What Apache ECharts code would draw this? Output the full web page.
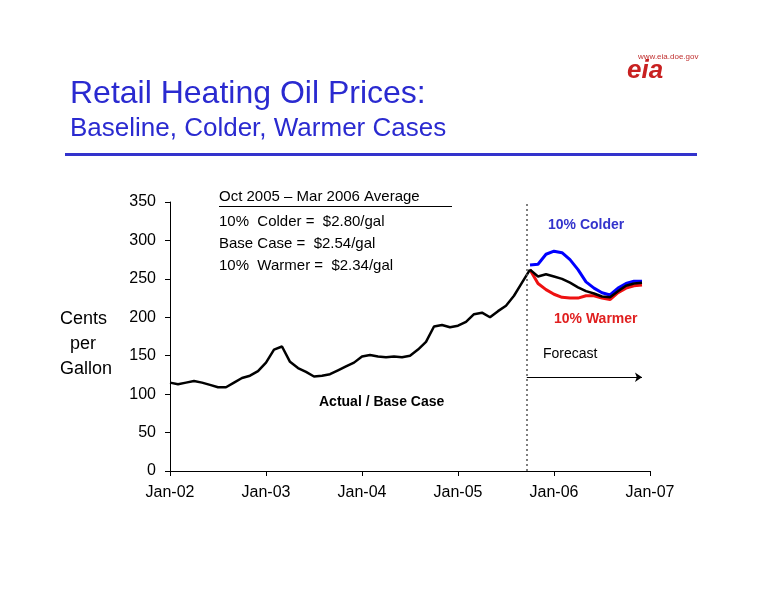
<!DOCTYPE html>
<html><head><meta charset="utf-8">
<script src="https://cdn.jsdelivr.net/npm/echarts@6/dist/echarts.min.js"></script>
<style>html,body{margin:0;background:#fff}#c{width:776px;height:600px}</style>
</head><body><div id="c"></div>
<script>
const xTickLabels = ['Jan-02','Jan-03','Jan-04','Jan-05','Jan-06','Jan-07'];
// monthly, Jan-02 .. Oct-05
const actual = [115,113,115,117,115,112,109,109,115,121,124,130,
  141,158,162,142,134,129,123,124,126,131,136,141,
  149,151,149,148,149,148,150,158,168,188,190,187,
  189,194,204,206,200,208,215,228,245,262];
// Oct-05 .. Dec-06
const base   = [262,253,256,253,250,245,239,234,231,227,226,234,241,244,245];
const colder = [268,269,282,286,284,275,262,246,238,232,229,238,244,247,247];
const warmer = [262,244,236,230,226,225,225,228,228,225,223,232,238,241,242];
const fStart = actual.length - 1;
const pts = (arr, off) => arr.map((v, i) => [off + i, v]);
const chart = echarts.init(document.getElementById('c'));
const F = 'Liberation Sans, Arial, sans-serif';
chart.setOption({
  animation:false,
  grid:{left:170,right:126,top:202,bottom:129},
  xAxis:{type:'value',min:0,max:60,interval:12,
    axisLine:{lineStyle:{color:'#000'}},axisTick:{lineStyle:{color:'#000'},length:5},
    splitLine:{show:false},
    axisLabel:{color:'#000',fontSize:16,fontFamily:F,margin:14,formatter:v=>xTickLabels[v/12]}},
  yAxis:{type:'value',min:0,max:350,interval:50,
    axisLine:{show:true,lineStyle:{color:'#000'}},axisTick:{show:true,lineStyle:{color:'#000'},length:5},
    splitLine:{show:false},
    axisLabel:{color:'#000',fontSize:16,fontFamily:F,margin:14}},
  series:[
    {type:'line',data:pts(colder,fStart),symbol:'none',lineStyle:{color:'#0000ff',width:3},z:3},
    {type:'line',data:pts(warmer,fStart),symbol:'none',lineStyle:{color:'#ee1111',width:3},z:3},
    {type:'line',data:pts(base,fStart),symbol:'none',lineStyle:{color:'#000',width:2.5},z:4},
    {type:'line',data:pts(actual,0),symbol:'none',lineStyle:{color:'#000',width:2.5},z:4,
      markLine:{silent:true,symbol:'none',label:{show:false},
        data:[
          [{coord:[44.6,0],lineStyle:{type:[2,3],color:'#555',width:1.5}},{coord:[44.6,350]}],
          [{coord:[44.6,122],symbol:'none',lineStyle:{type:'solid',color:'#000',width:1.2}},{coord:[59,122],symbol:'arrow',symbolSize:7}]
        ]}}
  ],
  graphic:[
    {type:'text',left:70,top:78,style:{text:'Retail Heating Oil Prices:',fill:'#2a2ad0',font:'32px '+F}},
    {type:'text',left:70,top:116,style:{text:'Baseline, Colder, Warmer Cases',fill:'#2a2ad0',font:'26px '+F}},
    {type:'rect',shape:{x:65,y:153,width:632,height:3},style:{fill:'#3333cc'}},
    {type:'text',left:638,top:53,style:{text:'www.eia.doe.gov',fill:'#c03030',font:'8px '+F}},
    {type:'text',left:627,top:58,style:{text:'eia',fill:'#c82020',font:'bold italic 26px '+F}},
    {type:'text',left:60,top:307,style:{text:'Cents\n  per\nGallon',fill:'#000',font:'18px '+F,lineHeight:25}},
    {type:'text',left:219,top:189,style:{text:'Oct 2005 – Mar 2006 Average',fill:'#000',font:'15px '+F}},
    {type:'rect',shape:{x:219,y:206,width:233,height:1},style:{fill:'#000'}},
    {type:'text',left:219,top:211,style:{text:'10%  Colder =  $2.80/gal\nBase Case =  $2.54/gal\n10%  Warmer =  $2.34/gal',fill:'#000',font:'15px '+F,lineHeight:22}},
    {type:'text',left:548,top:218,style:{text:'10% Colder',fill:'#3333cc',font:'bold 14px '+F}},
    {type:'text',left:554,top:312,style:{text:'10% Warmer',fill:'#e02020',font:'bold 14px '+F}},
    {type:'text',left:543,top:347,style:{text:'Forecast',fill:'#000',font:'14px '+F}},
    {type:'text',left:319,top:395,style:{text:'Actual / Base Case',fill:'#000',font:'bold 14px '+F}}
  ]
});
</script></body></html>
